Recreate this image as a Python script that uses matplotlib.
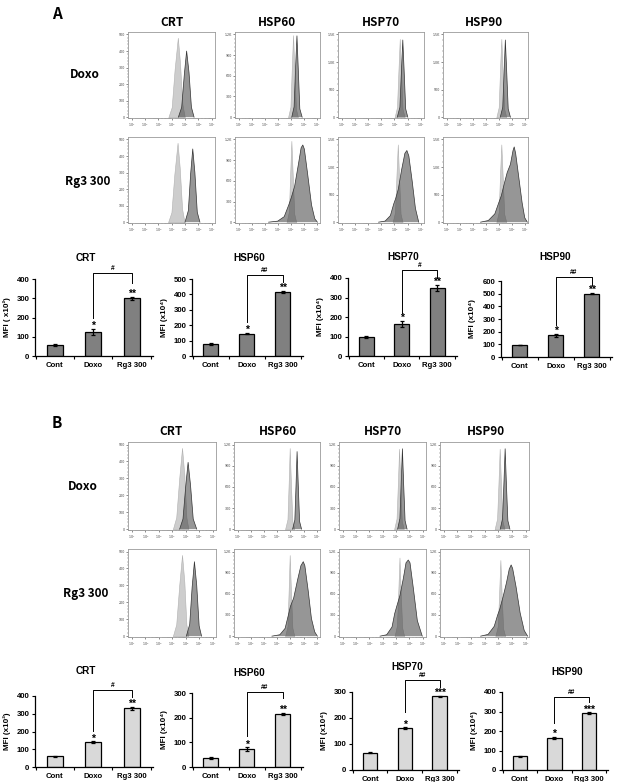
import numpy as np
import matplotlib
matplotlib.use("Agg")
import matplotlib.pyplot as plt

W, H = 618, 782

# ---- names / labels ----
markers = ["CRT", "HSP60", "HSP70", "HSP90"]
groups = ["Cont", "Doxo", "Rg3 300"]
rows = ["Doxo", "Rg3 300"]

# ---- bar data (MFI) ----
a_mfi = [[58, 125, 300], [80, 145, 415], [97, 165, 350], [95, 170, 500]]
a_err = [[5, 15, 8], [6, 5, 8], [4, 15, 15], [3, 12, 6]]
a_stars = [["*", "**"], ["*", "**"], ["*", "**"], ["*", "**"]]
a_hash = ["#", "##", "#", "##"]
a_ymax = [400, 500, 400, 600]
a_ylab = ["MFI ( x10²)", "MFI (x10⁴)", "MFI (x10⁴)", "MFI (x10⁴)"]
a_bracket = [[430, 200, 380], [526, 221, 482], [441, 220, 400], [631, 253, 568]]

b_mfi = [[60, 140, 330], [37, 73, 215], [67, 160, 283], [70, 165, 290]]
b_err = [[2, 5, 8], [3, 7, 3], [3, 4, 3], [4, 6, 5]]
b_stars = [["*", "**"], ["*", "**"], ["*", "***"], ["*", "***"]]
b_hash = ["#", "##", "##", "##"]
b_ymax = [400, 300, 300, 400]
b_ylab = ["MFI (x10²)", "MFI (x10⁴)", "MFI (x10⁴)", "MFI (x10⁴)"]
b_bracket = [[434, 205, 396], [303, 125, 280], [346, 224, 320], [376, 240, 350]]

# ---- flow histograms (log decade, count) ----
a_hist_ymax = [500, 1200, 1500, 1500]
a_hist_ticks = [[0, 100, 200, 300, 400, 500], [0, 300, 600, 900, 1200], [0, 500, 1000, 1500], [0, 500, 1000, 1500]]
a_hist_tlab = [["0", "100", "200", "300", "400", "500"], ["0", "300", "600", "900", "1.2K"],
               ["0", "500", "1.0K", "1.5K"], ["0", "500", "1.0K", "1.5K"]]
b_hist_ymax = [500, 1200, 1200, 1200]
b_hist_ticks = [[0, 100, 200, 300, 400, 500], [0, 300, 600, 900, 1200], [0, 300, 600, 900, 1200], [0, 300, 600, 900, 1200]]
b_hist_tlab = [["0", "100", "200", "300", "400", "500"], ["0", "300", "600", "900", "1.2K"],
               ["0", "300", "600", "900", "1.2K"], ["0", "300", "600", "900", "1.2K"]]

a_doxo_ctrl = [
    [(3.75, 0), (4.0, 60), (4.22, 290), (4.46, 480), (4.62, 330), (4.8, 80), (4.98, 0)],
    [(4.8, 0), (4.98, 150), (5.08, 700), (5.18, 1190), (5.28, 700), (5.4, 120), (5.55, 0)],
    [(5.02, 0), (5.2, 180), (5.31, 850), (5.41, 1420), (5.5, 850), (5.62, 150), (5.78, 0)],
    [(4.82, 0), (5.0, 180), (5.1, 850), (5.2, 1420), (5.3, 850), (5.42, 150), (5.58, 0)],
]
a_doxo_trt = [
    [(4.5, 0), (4.75, 60), (4.95, 260), (5.12, 400), (5.3, 270), (5.48, 60), (5.68, 0)],
    [(5.08, 0), (5.26, 150), (5.37, 700), (5.48, 1180), (5.58, 700), (5.7, 120), (5.88, 0)],
    [(5.22, 0), (5.42, 180), (5.54, 850), (5.64, 1400), (5.74, 850), (5.86, 150), (6.02, 0)],
    [(5.12, 0), (5.31, 180), (5.42, 850), (5.51, 1400), (5.61, 850), (5.73, 150), (5.9, 0)],
]
a_rg3_ctrl = [
    [(3.73, 0), (3.98, 60), (4.2, 290), (4.44, 480), (4.6, 330), (4.78, 80), (4.96, 0)],
    [(4.68, 0), (4.86, 150), (4.96, 700), (5.05, 1180), (5.15, 700), (5.27, 120), (5.42, 0)],
    [(4.87, 0), (5.05, 180), (5.16, 850), (5.26, 1410), (5.35, 850), (5.47, 150), (5.62, 0)],
    [(4.82, 0), (5.0, 180), (5.1, 850), (5.2, 1410), (5.3, 850), (5.42, 150), (5.58, 0)],
]
a_rg3_trt = [
    [(5.0, 0), (5.25, 70), (5.42, 290), (5.58, 443), (5.74, 300), (5.92, 60), (6.12, 0)],
    [(3.3, 0), (4.0, 15), (4.5, 80), (4.85, 250), (5.05, 360), (5.3, 520), (5.6, 850), (5.8, 1080),
     (5.93, 1120), (6.05, 1060), (6.3, 700), (6.6, 250), (6.85, 50), (7.05, 0)],
    [(3.8, 0), (4.3, 20), (4.7, 120), (4.95, 330), (5.1, 430), (5.3, 600), (5.55, 950), (5.8, 1250),
     (5.95, 1300), (6.1, 1200), (6.35, 750), (6.6, 250), (6.85, 0)],
    [(3.6, 0), (4.2, 30), (4.7, 150), (5.0, 350), (5.2, 480), (5.45, 720), (5.65, 900), (5.9, 1050),
     (6.1, 1300), (6.19, 1365), (6.3, 1250), (6.55, 800), (6.8, 350), (7.0, 80), (7.2, 0)],
]
b_doxo_ctrl = [
    [(4.05, 0), (4.3, 70), (4.52, 300), (4.73, 480), (4.9, 320), (5.05, 70), (5.2, 0)],
    [(4.6, 0), (4.78, 140), (4.87, 650), (4.95, 1150), (5.04, 650), (5.15, 120), (5.3, 0)],
    [(4.86, 0), (5.04, 150), (5.14, 650), (5.23, 1140), (5.32, 650), (5.43, 120), (5.58, 0)],
    [(4.73, 0), (4.91, 150), (5.01, 650), (5.1, 1140), (5.19, 650), (5.3, 120), (5.45, 0)],
]
b_doxo_trt = [
    [(4.55, 0), (4.8, 60), (5.0, 250), (5.18, 395), (5.36, 260), (5.56, 60), (5.82, 0)],
    [(5.17, 0), (5.34, 130), (5.43, 620), (5.51, 1100), (5.6, 620), (5.7, 110), (5.85, 0)],
    [(5.12, 0), (5.29, 150), (5.39, 650), (5.48, 1140), (5.57, 650), (5.68, 120), (5.83, 0)],
    [(5.14, 0), (5.31, 150), (5.41, 650), (5.5, 1140), (5.59, 650), (5.7, 120), (5.85, 0)],
]
b_rg3_ctrl = [
    [(4.05, 0), (4.3, 70), (4.52, 300), (4.73, 480), (4.9, 320), (5.05, 70), (5.2, 0)],
    [(4.6, 0), (4.78, 140), (4.87, 650), (4.95, 1150), (5.04, 650), (5.15, 120), (5.3, 0)],
    [(4.89, 0), (5.07, 150), (5.17, 630), (5.26, 1115), (5.35, 630), (5.46, 120), (5.61, 0)],
    [(4.78, 0), (4.96, 140), (5.06, 610), (5.15, 1080), (5.24, 610), (5.35, 110), (5.5, 0)],
]
b_rg3_trt = [
    [(5.05, 0), (5.3, 70), (5.48, 290), (5.65, 440), (5.82, 300), (6.0, 60), (6.18, 0)],
    [(3.6, 0), (4.2, 20), (4.6, 110), (4.85, 300), (5.0, 420), (5.25, 540), (5.55, 800), (5.8, 1000),
     (5.98, 1056), (6.1, 1000), (6.35, 650), (6.6, 250), (6.85, 60), (7.05, 0)],
    [(3.8, 0), (4.3, 20), (4.7, 130), (4.9, 320), (5.05, 420), (5.3, 580), (5.55, 820), (5.75, 1040),
     (5.92, 1080), (6.05, 1040), (6.3, 680), (6.6, 220), (6.97, 0)],
    [(3.7, 0), (4.25, 25), (4.7, 140), (4.95, 300), (5.1, 380), (5.35, 560), (5.6, 760), (5.8, 950),
     (5.94, 1010), (6.05, 960), (6.3, 700), (6.6, 330), (6.9, 80), (7.15, 0)],
]

fig = plt.figure(figsize=(W / 100, H / 100), dpi=100)
bar_font = ["Liberation Sans", "DejaVu Sans"]
head_font = ["Noto Sans CJK KR", "DejaVu Sans"]


def box(l, t, r, b):
    return [l / W, 1 - b / H, (r - l) / W, (b - t) / H]


def ftext(x, y, s, **kw):
    fig.text(x / W, 1 - y / H, s, ha="center", va="center", **kw)


def draw_hist(rect, ctrl, trt, ymax, ticks, tlab):
    ax = fig.add_axes(box(*rect))
    cx, cy = zip(*ctrl)
    tx, ty = zip(*trt)
    ax.fill_between(cx, cy, facecolor="#cdcdcd", edgecolor="#b0b0b0", lw=0.4)
    ax.fill_between(tx, ty, facecolor="#404040", alpha=0.55, lw=0)
    ax.plot(tx, ty, color="#333333", lw=0.5)
    ax.set_xlim(0.72, 7.25)
    ax.set_ylim(-0.01 * ymax, ymax * 1.03)
    ax.set_xticks(range(1, 8))
    ax.set_xticklabels(["$10^{%d}$" % k for k in range(1, 8)])
    minors = [k + np.log10(m) for k in range(0, 8) for m in range(2, 10)]
    ax.set_xticks([v for v in minors if 0.72 < v < 7.25], minor=True)
    ax.set_yticks(ticks)
    ax.set_yticklabels(tlab)
    ax.set_yticks(np.linspace(0, ticks[-1], (len(ticks) - 1) * 5 + 1), minor=True)
    for s in ax.spines.values():
        s.set_color("#9a9a9a")
        s.set_linewidth(0.6)
    ax.tick_params(which="major", length=1.6, width=0.4, color="#333333", labelsize=2.3,
                   labelcolor="#444444", pad=0.6)
    ax.tick_params(which="minor", length=0.8, width=0.3, color="#555555")


def draw_bars(rect, title, txy, vals, errs, ymax, ylab, color, stars, hsh, br):
    ax = fig.add_axes(box(*rect))
    x = np.arange(len(groups))
    ax.bar(x, vals, width=0.42, color=color, edgecolor="black", lw=0.9, zorder=2)
    ax.errorbar(x, vals, yerr=errs, fmt="none", ecolor="black", elinewidth=0.9,
                capsize=1.5, capthick=0.9, zorder=3)
    ax.set_xlim(-0.52, 2.56)
    ax.set_ylim(0, ymax)
    ax.set_yticks(np.arange(0, ymax + 1, 100))
    ax.set_xticks(x)
    ax.set_xticklabels(groups)
    ax.set_xticks([-0.5, 0.5, 1.5, 2.5], minor=True)
    for s in ["top", "right"]:
        ax.spines[s].set_visible(False)
    for s in ["left", "bottom"]:
        ax.spines[s].set_linewidth(0.9)
    ax.tick_params(axis="x", which="major", length=0, pad=4)
    ax.tick_params(axis="x", which="minor", length=2.5, width=0.8)
    ax.tick_params(axis="y", length=2.5, width=0.8, pad=1.5)
    for lab in ax.get_xticklabels() + ax.get_yticklabels():
        lab.set_fontfamily(bar_font)
        lab.set_fontweight("bold")
        lab.set_fontsize(5.6)
    for i, s in zip([1, 2], stars):
        ax.annotate(s, (i, vals[i] + errs[i]), xytext=(0, -1.5), textcoords="offset points",
                    ha="center", va="bottom", fontsize=7.5, fontweight="bold",
                    fontfamily=bar_font, annotation_clip=False)
    top, lb, rb = br
    ax.plot([1, 1, 2, 2], [lb, top, top, rb], color="black", lw=0.7, clip_on=False)
    ax.annotate(hsh, (1.5, top), xytext=(0, 0.6), textcoords="offset points",
                ha="center", va="bottom", fontsize=4.8, fontweight="bold",
                fontfamily=bar_font, annotation_clip=False)
    l, t, r, b = rect
    ftext(txy[0], txy[1], title, fontsize=7.2, fontweight="bold", family=bar_font)
    ftext(l - 28, (t + b) / 2, ylab, rotation=90, fontsize=5.8, fontweight="bold", family=bar_font)


# ---------------- panel A ----------------
ftext(57, 14, "A", fontsize=11, fontweight="bold", family=head_font)
a_cols = [(128, 215), (235, 320), (338, 424), (443, 528)]
a_title_x = [172, 277, 381, 484]
for j, m in enumerate(markers):
    ftext(a_title_x[j], 22, m, fontsize=8.5, fontweight="bold", family=head_font)
ftext(85, 75, rows[0], fontsize=8.5, fontweight="bold", family=head_font)
ftext(88, 182, rows[1], fontsize=8.5, fontweight="bold", family=head_font)
for j in range(4):
    l, r = a_cols[j]
    draw_hist((l, 32, r, 118), a_doxo_ctrl[j], a_doxo_trt[j], a_hist_ymax[j], a_hist_ticks[j], a_hist_tlab[j])
    draw_hist((l, 137, r, 223), a_rg3_ctrl[j], a_rg3_trt[j], a_hist_ymax[j], a_hist_ticks[j], a_hist_tlab[j])

a_rects = [(35, 279, 153, 356), (192, 279, 303, 356), (348, 278, 457, 356), (501, 281, 612, 357)]
a_txy = [(86, 258), (249, 258), (403, 257), (555, 257)]
for j, m in enumerate(markers):
    draw_bars(a_rects[j], m, a_txy[j], a_mfi[j], a_err[j], a_ymax[j], a_ylab[j], "#808080",
              a_stars[j], a_hash[j], a_bracket[j])

# ---------------- panel B ----------------
ftext(57, 423, "B", fontsize=11, fontweight="bold", family=head_font)
b_cols = [(128, 216), (234, 320), (339, 426), (440, 529)]
b_title_x = [171, 278, 383, 486]
for j, m in enumerate(markers):
    ftext(b_title_x[j], 432, m, fontsize=8.5, fontweight="bold", family=head_font)
ftext(83, 486, rows[0], fontsize=8.5, fontweight="bold", family=head_font)
ftext(86, 593, rows[1], fontsize=8.5, fontweight="bold", family=head_font)
for j in range(4):
    l, r = b_cols[j]
    draw_hist((l, 442, r, 530), b_doxo_ctrl[j], b_doxo_trt[j], b_hist_ymax[j], b_hist_ticks[j], b_hist_tlab[j])
    draw_hist((l, 549, r, 637), b_rg3_ctrl[j], b_rg3_trt[j], b_hist_ymax[j], b_hist_ticks[j], b_hist_tlab[j])

b_rects = [(35, 696, 153, 767), (192, 693, 303, 767), (352, 692, 459, 770), (502, 692, 608, 770)]
b_txy = [(86, 671), (249, 673), (407, 667), (567, 672)]
for j, m in enumerate(markers):
    draw_bars(b_rects[j], m, b_txy[j], b_mfi[j], b_err[j], b_ymax[j], b_ylab[j], "#d9d9d9",
              b_stars[j], b_hash[j], b_bracket[j])

fig.savefig("out.png", dpi=100)
